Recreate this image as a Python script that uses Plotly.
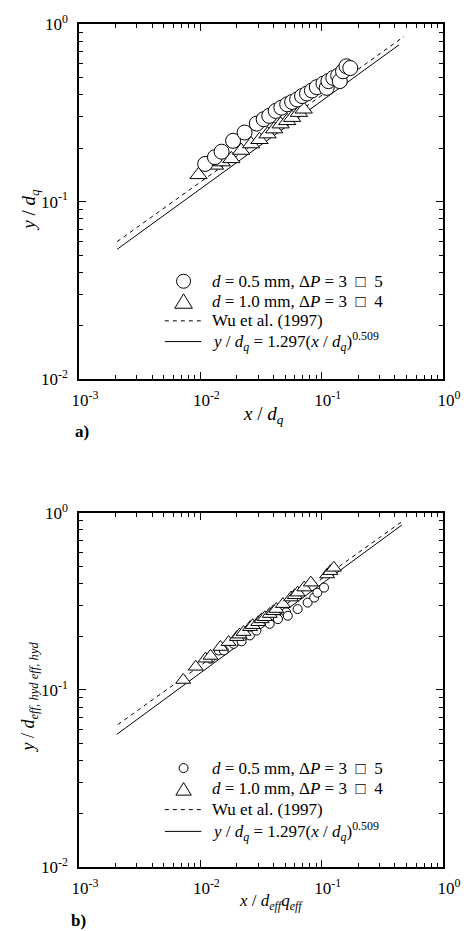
import plotly.graph_objects as go

# ---------------- data: panel a ----------------
a_circ_x = [0.01096, 0.0132, 0.01497, 0.01862, 0.02317, 0.0292, 0.0333, 0.0370, 0.0418, 0.0465,
            0.0520, 0.0571, 0.0628, 0.0689, 0.0757, 0.0831, 0.0912, 0.1035, 0.110, 0.1136,
            0.1247, 0.1368, 0.141, 0.150, 0.160, 0.172]
a_circ_y = [0.163, 0.178, 0.191, 0.220, 0.245, 0.275, 0.291, 0.304, 0.324, 0.338,
            0.353, 0.364, 0.376, 0.393, 0.406, 0.422, 0.441, 0.462, 0.437, 0.477,
            0.497, 0.512, 0.477, 0.542, 0.578, 0.565]
a_tri_x = [0.00966, 0.0132, 0.0150, 0.0180, 0.0217, 0.0262, 0.0307, 0.0358, 0.0406, 0.0459,
           0.0520, 0.0571, 0.0649, 0.0711]
a_tri_y = [0.1415, 0.160, 0.167, 0.174, 0.194, 0.211, 0.223, 0.240, 0.256, 0.273,
           0.285, 0.297, 0.317, 0.331]
a_wu_x = [0.00206, 0.476]
a_wu_y = [0.0595, 0.850]
a_fit_x = [0.00206, 0.434]
a_fit_y = [0.0539, 0.763]

# ---------------- data: panel b ----------------
b_circ_x = [0.0121, 0.0142, 0.0156, 0.0188, 0.0219, 0.0256, 0.0290, 0.0373, 0.0436, 0.0509,
            0.0526, 0.0634, 0.0766, 0.0867, 0.0922, 0.1045]
b_circ_y = [0.150, 0.167, 0.167, 0.182, 0.188, 0.203, 0.216, 0.236, 0.251, 0.274,
            0.262, 0.286, 0.311, 0.332, 0.354, 0.378]
b_tri_x = [0.00723, 0.00916, 0.01104, 0.01213, 0.01462, 0.0171, 0.0200, 0.0210, 0.0227, 0.0257,
           0.0270, 0.0300, 0.0320, 0.0340, 0.0373, 0.0400, 0.0423, 0.0479, 0.0560, 0.0600,
           0.0634, 0.0718, 0.0814, 0.111, 0.118, 0.126]
b_tri_y = [0.1137, 0.135, 0.150, 0.1555, 0.1746, 0.186, 0.1985, 0.205, 0.212, 0.226,
           0.232, 0.241, 0.250, 0.257, 0.268, 0.278, 0.286, 0.305, 0.332, 0.342,
           0.354, 0.378, 0.403, 0.448, 0.468, 0.489]
b_wu_x = [0.00209, 0.458]
b_wu_y = [0.0637, 0.891]
b_fit_x = [0.00205, 0.458]
b_fit_y = [0.0561, 0.853]

# ---------------- ticks / labels ----------------
x_tick_vals = [1e-3, 1e-2, 1e-1, 1]
x_tick_text = ["10<sup>-3</sup>", "10<sup>-2</sup>", "10<sup>-1</sup>", "10<sup>0</sup>"]
y_tick_vals = [1e-2, 1e-1, 1]
y_tick_text = ["10<sup>-2</sup>", "10<sup>-1</sup>", "10<sup>0</sup>"]

NB = "\u00a0"
lbl_circ = f"<i>d</i> = 0.5 mm, Δ<i>P</i> = 3{NB}{NB}\u25a1{NB}{NB}5"
lbl_tri = f"<i>d</i> = 1.0 mm, Δ<i>P</i> = 3{NB}{NB}\u25a1{NB}{NB}4"
lbl_wu = "Wu et al. (1997)"
lbl_fit = "<i>y</i> / <i>d</i><sub><i>q</i></sub> = 1.297(<i>x</i> / <i>d</i><sub><i>q</i></sub>)<sup>0.509</sup>"
legend_labels = [lbl_circ, lbl_tri, lbl_wu, lbl_fit]

FONT = "Liberation Serif"

fig = go.Figure()

def add_panel(circ_x, circ_y, tri_x, tri_y, wu_x, wu_y, fit_x, fit_y, xa, ya,
              csize, tsize, circles_on_top):
    circ = go.Scatter(x=circ_x, y=circ_y, mode="markers", name=lbl_circ, showlegend=False,
                      marker=dict(symbol="circle", size=csize, color="white",
                                  line=dict(color="black", width=1)),
                      xaxis=xa, yaxis=ya)
    tri = go.Scatter(x=tri_x, y=tri_y, mode="markers", name=lbl_tri, showlegend=False,
                     marker=dict(symbol="triangle-up", size=tsize, color="white",
                                 line=dict(color="black", width=1)),
                     xaxis=xa, yaxis=ya)
    wu = go.Scatter(x=wu_x, y=wu_y, mode="lines", name=lbl_wu, showlegend=False,
                    line=dict(color="black", width=1, dash="4px,4px"),
                    xaxis=xa, yaxis=ya)
    fit = go.Scatter(x=fit_x, y=fit_y, mode="lines", name=lbl_fit, showlegend=False,
                     line=dict(color="black", width=1),
                     xaxis=xa, yaxis=ya)
    fig.add_trace(wu)
    fig.add_trace(fit)
    if circles_on_top:
        fig.add_trace(tri)
        fig.add_trace(circ)
    else:
        fig.add_trace(circ)
        fig.add_trace(tri)

add_panel(a_circ_x, a_circ_y, a_tri_x, a_tri_y, a_wu_x, a_wu_y, a_fit_x, a_fit_y,
          "x", "y", 15, 15, True)
add_panel(b_circ_x, b_circ_y, b_tri_x, b_tri_y, b_wu_x, b_wu_y, b_fit_x, b_fit_y,
          "x2", "y2", 9, 13, False)

minor_x = [m * 10.0 ** e for e in (-3, -2, -1) for m in range(2, 10)]
minor_y = [m * 10.0 ** e for e in (-2, -1) for m in range(2, 10)]

def axis(kind, domain, anchor):
    if kind == "x":
        tv, tt, rng, mv = x_tick_vals, x_tick_text, [-3, 0], minor_x
    else:
        tv, tt, rng, mv = y_tick_vals, y_tick_text, [-2, 0], minor_y
    d = dict(type="log", range=rng, domain=domain, anchor=anchor,
             tickmode="array", tickvals=tv, ticktext=tt,
             ticks="inside", ticklen=7, tickwidth=1, tickcolor="black",
             showline=True, linecolor="black", linewidth=1.5, mirror="allticks",
             showgrid=False, zeroline=False,
             minor=dict(ticks="inside", ticklen=4, tickwidth=1, tickcolor="black",
                        tickmode="array", tickvals=mv, showgrid=False),
             tickfont=dict(family=FONT, size=17, color="black"))
    if kind == "x":
        d["ticklabelstandoff"] = 5
        d["ticklabelshift"] = 6
    else:
        d["ticklabelstandoff"] = 6
    return d

fig.update_layout(
    width=473, height=931,
    margin=dict(l=79, r=25, t=15, b=64),
    paper_bgcolor="white", plot_bgcolor="white",
    font=dict(family=FONT, color="black"),
    xaxis=axis("x", [0, 1], "y"),
    yaxis=axis("y", [0.5786, 1], "x"),
    xaxis2=axis("x", [0, 1], "y2"),
    yaxis2=axis("y", [0, 0.4202], "x2"),
    showlegend=False,
)

# ---------- hand-built legends (paper coords; plot area spans px 79..448, 15..867) ----------
def px2x(px):
    return (px - 79) / 369.0

def py2y(py):
    return 1 - (py - 15) / 852.0

def draw_legend(rows_py, csize, tsize):
    sx = px2x(185)
    # circle
    fig.add_shape(type="circle", xref="paper", yref="paper", xsizemode="pixel", ysizemode="pixel",
                  xanchor=sx, yanchor=py2y(rows_py[0]),
                  x0=-csize / 2, x1=csize / 2, y0=-csize / 2, y1=csize / 2,
                  line=dict(color="black", width=1), fillcolor="white")
    # triangle
    h = tsize * 0.9
    w = tsize * 1.1
    fig.add_shape(type="path", xref="paper", yref="paper", xsizemode="pixel", ysizemode="pixel",
                  xanchor=sx, yanchor=py2y(rows_py[1]),
                  path=f"M {-w/2},{-h/2} L {w/2},{-h/2} L 0,{h/2} Z",
                  line=dict(color="black", width=1), fillcolor="white")
    # dashed
    fig.add_shape(type="line", xref="paper", yref="paper",
                  x0=px2x(166), x1=px2x(203), y0=py2y(rows_py[2]), y1=py2y(rows_py[2]),
                  line=dict(color="black", width=1, dash="4px,4px"))
    # solid
    fig.add_shape(type="line", xref="paper", yref="paper",
                  x0=px2x(166), x1=px2x(203), y0=py2y(rows_py[3]), y1=py2y(rows_py[3]),
                  line=dict(color="black", width=1))
    for lbl, py in zip(legend_labels, rows_py):
        fig.add_annotation(xref="paper", yref="paper", x=px2x(212), y=py2y(py),
                           xanchor="left", yanchor="middle", showarrow=False, text=lbl,
                           font=dict(family=FONT, size=17, color="black"))

draw_legend([275, 295, 315, 336], 14, 16)
draw_legend([767, 788, 809, 831], 9, 14)

ann_font = dict(family=FONT, size=19, color="black")

def ann(px, py, text, size=19, angle=0):
    fig.add_annotation(xref="paper", yref="paper", x=px2x(px), y=py2y(py),
                       xanchor="center", yanchor="middle", showarrow=False,
                       textangle=angle, text=text,
                       font=dict(family=FONT, size=size, color="black"))

ann(266, 410, "<i>x</i> / <i>d</i><sub><i>q</i></sub>")
ann(29, 203, "<i>y</i> / <i>d</i><sub><i>q</i></sub>", angle=-90)
ann(82, 427, "<b>a)</b>", size=17)
ann(274, 902, "<i>x</i> / <i>d</i><sub><i>eff</i></sub><i>q</i><sub><i>eff</i></sub>", size=17)
ann(29, 695, "<i>y</i> / <i>d</i><sub><i>eff, hyd eff, hyd</i></sub>", size=18, angle=-90)
ann(78, 921, "<b>b)</b>", size=17)

fig.write_html("out.html", config={"displayModeBar": False},
               post_script="document.body.style.margin='0';document.body.style.overflow='hidden';")
